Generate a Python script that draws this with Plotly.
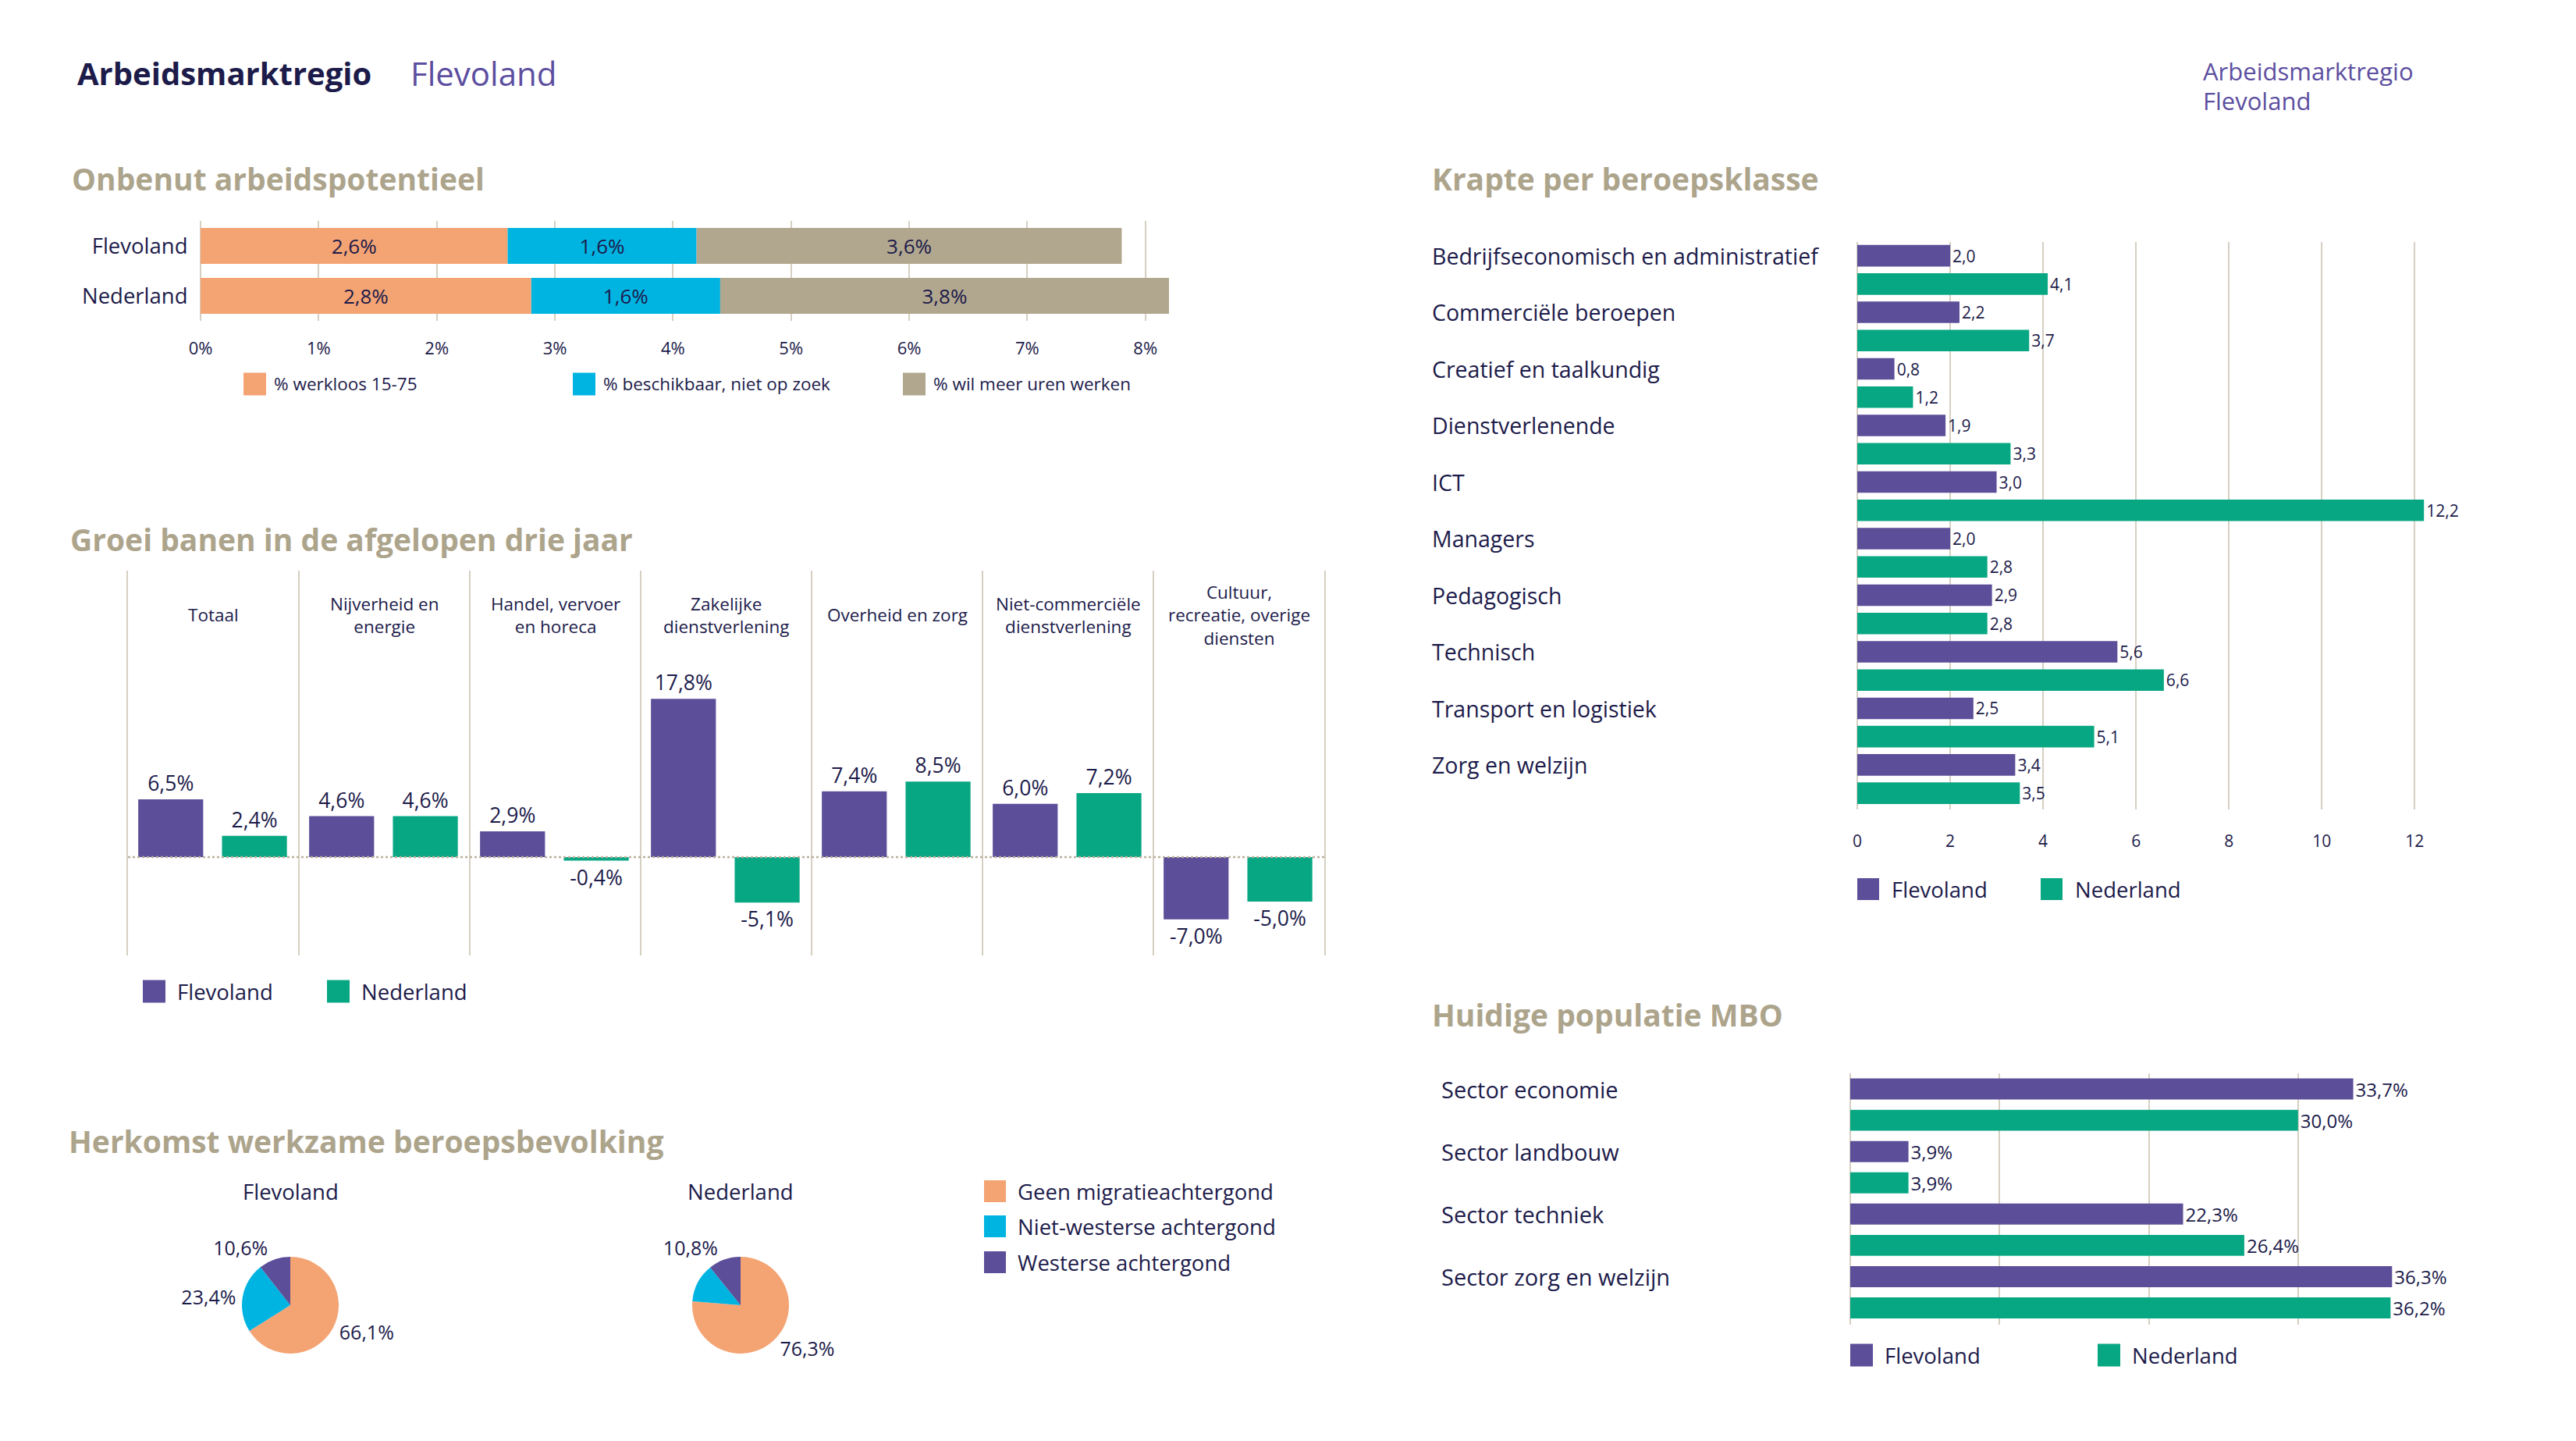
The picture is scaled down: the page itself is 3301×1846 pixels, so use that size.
import plotly.graph_objects as go

# ---------------- data ----------------
onbenut_regions = ["Flevoland", "Nederland"]
onbenut_series = ["% werkloos 15-75", "% beschikbaar, niet op zoek", "% wil meer uren werken"]
werkloos = [2.6, 2.8]
beschikbaar = [1.6, 1.6]
meer_uren = [3.6, 3.8]

groei_cats = ["Totaal", "Nijverheid en<br>energie", "Handel, vervoer<br>en horeca",
              "Zakelijke<br>dienstverlening", "Overheid en zorg",
              "Niet-commerciële<br>dienstverlening", "Cultuur,<br>recreatie, overige<br>diensten"]
groei_flevoland = [6.5, 4.6, 2.9, 17.8, 7.4, 6.0, -7.0]
groei_nederland = [2.4, 4.6, -0.4, -5.1, 8.5, 7.2, -5.0]

herkomst_labels = ["Geen migratieachtergond", "Niet-westerse achtergond", "Westerse achtergond"]
herkomst_flevoland = [66.1, 23.4, 10.6]
herkomst_nederland = [76.3, 12.9, 10.8]
herkomst_nederland_shown = [True, False, True]

krapte_cats = ["Bedrijfseconomisch en administratief", "Commerciële beroepen",
               "Creatief en taalkundig", "Dienstverlenende", "ICT", "Managers",
               "Pedagogisch", "Technisch", "Transport en logistiek", "Zorg en welzijn"]
krapte_flevoland = [2.0, 2.2, 0.8, 1.9, 3.0, 2.0, 2.9, 5.6, 2.5, 3.4]
krapte_nederland = [4.1, 3.7, 1.2, 3.3, 12.2, 2.8, 2.8, 6.6, 5.1, 3.5]

mbo_cats = ["Sector economie", "Sector landbouw", "Sector techniek", "Sector zorg en welzijn"]
mbo_flevoland = [33.7, 3.9, 22.3, 36.3]
mbo_nederland = [30.0, 3.9, 26.4, 36.2]

regions = ["Flevoland", "Nederland"]

# ---------------- styles ----------------
W, H = 3301, 1846
OFF = 8  # default page body margin
NAVY = "#1C1B4A"
PURPLE = "#5C4E99"
GREEN = "#08A783"
ORANGE = "#F4A373"
CYAN = "#00B4E2"
TAN = "#B1A78F"
TITLE_TAN = "#ADA48C"
GRID = "#D6CFC2"
HEAD_PURPLE = "#5C4E9F"
FONT = "Open Sans"


def fmt(v, suffix=""):
    return f"{v:.1f}".replace(".", ",") + suffix


def px(x):
    return (x - OFF) / W


def py(y):
    return 1 - (y - OFF) / H


def xd(a, b):
    return [px(a), px(b)]


def yd(top, bottom):
    return [py(bottom), py(top)]


fig = go.Figure()

# ---------- Chart 1: Onbenut arbeidspotentieel (stacked) ----------
base = [0.0] * len(onbenut_regions)
for name, vals, col in zip(onbenut_series, [werkloos, beschikbaar, meer_uren], [ORANGE, CYAN, TAN]):
    fig.add_trace(go.Bar(
        y=onbenut_regions, x=vals, base=list(base), orientation="h", name=name,
        marker=dict(color=col, line=dict(width=0)), width=0.72,
        text=[fmt(v, "%") for v in vals], textposition="inside", insidetextanchor="middle",
        textfont=dict(size=26, color=NAVY, family=FONT), constraintext="none",
        xaxis="x", yaxis="y", hoverinfo="skip"))
    base = [b + v for b, v in zip(base, vals)]

# ---------- Chart 2: Groei banen ----------
for name, vals, col, off in [(regions[0], groei_flevoland, PURPLE, -0.44),
                             (regions[1], groei_nederland, GREEN, 0.05)]:
    fig.add_trace(go.Bar(
        x=groei_cats, y=vals, name=name, width=0.38, offset=off,
        marker=dict(color=col, line=dict(width=0)),
        text=[fmt(v, "%") for v in vals], textposition="outside", cliponaxis=False,
        textfont=dict(size=26.5, color=NAVY, family=FONT), constraintext="none",
        xaxis="x2", yaxis="y2", hoverinfo="skip"))

# ---------- Chart 3: Herkomst (pies) ----------
pie_colors = [ORANGE, CYAN, PURPLE]
fig.add_trace(go.Pie(
    labels=herkomst_labels, values=herkomst_flevoland, sort=False, direction="clockwise",
    rotation=0, marker=dict(colors=pie_colors, line=dict(width=0)),
    text=[fmt(v, "%") for v in herkomst_flevoland], textinfo="text", textposition="outside",
    textfont=dict(size=25, color=NAVY, family=FONT), showlegend=False, hoverinfo="skip",
    domain=dict(x=xd(310, 434), y=yd(1610, 1734))))
fig.add_trace(go.Pie(
    labels=herkomst_labels, values=herkomst_nederland, sort=False, direction="clockwise",
    rotation=0, marker=dict(colors=pie_colors, line=dict(width=0)),
    text=[fmt(v, "%") if s else "" for v, s in zip(herkomst_nederland, herkomst_nederland_shown)],
    textinfo="text", textposition="outside",
    textfont=dict(size=25, color=NAVY, family=FONT), showlegend=False, hoverinfo="skip",
    domain=dict(x=xd(887, 1011), y=yd(1610, 1734))))

# ---------- Chart 4: Krapte ----------
for name, vals, col, off in [(regions[0], krapte_flevoland, PURPLE, -0.44),
                             (regions[1], krapte_nederland, GREEN, 0.06)]:
    fig.add_trace(go.Bar(
        y=krapte_cats, x=vals, orientation="h", name=name, width=0.38, offset=off,
        marker=dict(color=col, line=dict(width=0)),
        text=[fmt(v) for v in vals], textposition="outside", cliponaxis=False,
        textfont=dict(size=21, color=NAVY, family=FONT), constraintext="none",
        xaxis="x3", yaxis="y3", hoverinfo="skip"))

# ---------- Chart 5: MBO ----------
for name, vals, col, off in [(regions[0], mbo_flevoland, PURPLE, -0.418),
                             (regions[1], mbo_nederland, GREEN, 0.082)]:
    fig.add_trace(go.Bar(
        y=mbo_cats, x=vals, orientation="h", name=name, width=0.336, offset=off,
        marker=dict(color=col, line=dict(width=0)),
        text=[fmt(v, "%") for v in vals], textposition="outside", cliponaxis=False,
        textfont=dict(size=24, color=NAVY, family=FONT), constraintext="none",
        xaxis="x4", yaxis="y4", hoverinfo="skip"))

hidden_ticks = dict(ticks="outside", tickcolor="rgba(0,0,0,0)")

fig.update_layout(
    width=W, height=H, margin=dict(l=0, r=0, t=0, b=0, autoexpand=False),
    paper_bgcolor="white", plot_bgcolor="white", showlegend=False,
    barmode="overlay", font=dict(family=FONT, color=NAVY),
    xaxis=dict(domain=xd(257, 1498), range=[0, 8.2], dtick=1, ticksuffix="%",
               showgrid=True, gridcolor=GRID, gridwidth=1.5, zeroline=True,
               zerolinecolor=GRID, zerolinewidth=1.5, ticklen=16, automargin=False,
               tickfont=dict(size=22, color=NAVY), anchor="y", fixedrange=True,
               **hidden_ticks),
    yaxis=dict(domain=yd(283, 411), type="category", autorange="reversed", automargin=False,
               showgrid=False, ticklen=10, tickfont=dict(size=27.5, color=NAVY),
               anchor="x", fixedrange=True, **hidden_ticks),
    xaxis2=dict(domain=xd(164, 1697), type="category", range=[-0.5, 6.5], automargin=False,
                showgrid=True, tickson="boundaries", gridcolor=GRID, gridwidth=1.5,
                showticklabels=False, zeroline=False, anchor="y2", fixedrange=True),
    yaxis2=dict(domain=yd(731, 1224), range=[-11.05, 32.2], showgrid=False, automargin=False,
                showline=True, mirror=True, linecolor=GRID, linewidth=1.5,
                zeroline=False, showticklabels=False, anchor="x2", fixedrange=True),
    xaxis3=dict(domain=xd(2380, 3130), range=[0, 12.6], dtick=2, showgrid=True,
                gridcolor=GRID, gridwidth=1.5, zeroline=True, zerolinecolor=GRID,
                zerolinewidth=1.5, ticklen=22, tickfont=dict(size=21, color=NAVY),
                automargin=False, anchor="y3", fixedrange=True, **hidden_ticks),
    yaxis3=dict(domain=yd(309.5, 1037), type="category", autorange="reversed", automargin=False,
                showgrid=False, showticklabels=False, anchor="x3", fixedrange=True),
    xaxis4=dict(domain=xd(2371, 3137), range=[0, 40.05], dtick=10, showgrid=True,
                gridcolor=GRID, gridwidth=1.5, zeroline=True, zerolinecolor=GRID,
                zerolinewidth=1.5, showticklabels=False, automargin=False,
                anchor="y4", fixedrange=True),
    yaxis4=dict(domain=yd(1375, 1697), type="category", autorange="reversed", automargin=False,
                showgrid=False, showticklabels=False, anchor="x4", fixedrange=True),
)

shapes = []
annotations = []


def ann(x, y, text, size, color=NAVY, xanchor="left", bold=False, **kw):
    t = f"<b>{text}</b>" if bold else text
    d = dict(x=px(x), y=py(y), xref="paper", yref="paper", text=t, showarrow=False,
             xanchor=xanchor, yanchor="middle", font=dict(size=size, color=color, family=FONT))
    d.update(kw)
    annotations.append(d)


def legend_item(x, y, color, text, size=27, sq=28, gap=13):
    shapes.append(dict(type="rect", xref="paper", yref="paper", x0=px(x), x1=px(x + sq),
                       y0=py(y + sq / 2), y1=py(y - sq / 2), fillcolor=color,
                       line=dict(width=0), layer="above"))
    ann(x + sq + gap, y, text, size)


# zero line of groei chart (dotted)
shapes.append(dict(type="line", xref="x2 domain", yref="y2", x0=0, x1=1, y0=0, y1=0,
                   line=dict(color="#B9B09C", width=2.5, dash="dot"), layer="above"))

# header
ann(97, 93, "Arbeidsmarktregio", 40, color=NAVY, bold=True)
ann(524, 93, "Flevoland", 42, color=HEAD_PURPLE)
ann(2821, 91, "Arbeidsmarktregio", 31, color=HEAD_PURPLE)
ann(2821, 129, "Flevoland", 31, color=HEAD_PURPLE)

# section titles
ann(90, 229, "Onbenut arbeidspotentieel", 39, color=TITLE_TAN, bold=True)
ann(88, 690, "Groei banen in de afgelopen drie jaar", 39, color=TITLE_TAN, bold=True)
ann(86, 1461, "Herkomst werkzame beroepsbevolking", 39, color=TITLE_TAN, bold=True)
ann(1833, 229, "Krapte per beroepsklasse", 39, color=TITLE_TAN, bold=True)
ann(1833, 1299, "Huidige populatie MBO", 39, color=TITLE_TAN, bold=True)

# legends
legend_item(312, 492, ORANGE, onbenut_series[0], size=22.5, sq=29, gap=8)
legend_item(734, 492, CYAN, onbenut_series[1], size=22.5, sq=29, gap=8)
legend_item(1157, 492, TAN, onbenut_series[2], size=22.5, sq=29, gap=8)

legend_item(183, 1270, PURPLE, regions[0], size=27.5, sq=29)
legend_item(419, 1270, GREEN, regions[1], size=27.5, sq=29)

legend_item(1261, 1526, ORANGE, herkomst_labels[0], size=27.5, sq=28, gap=13)
legend_item(1261, 1571, CYAN, herkomst_labels[1], size=27.5, sq=28, gap=13)
legend_item(1261, 1617, PURPLE, herkomst_labels[2], size=27.5, sq=28, gap=13)

legend_item(2380, 1139, PURPLE, regions[0], size=27.5, sq=28, gap=14)
legend_item(2615, 1139, GREEN, regions[1], size=27.5, sq=28, gap=14)

legend_item(2371, 1736, PURPLE, regions[0], size=27.5, sq=29, gap=13)
legend_item(2688, 1736, GREEN, regions[1], size=27.5, sq=29, gap=13)

# pie titles
ann(372, 1526, regions[0], 27.5, xanchor="center")
ann(949, 1526, regions[1], 27.5, xanchor="center")

# groei category labels
for c in groei_cats:
    annotations.append(dict(x=c, y=0.885, xref="x2", yref="y2 domain", text=c, showarrow=False,
                            xanchor="center", yanchor="middle", align="center",
                            font=dict(size=22.5, color=NAVY, family=FONT)))

# krapte category labels (aligned to the upper bar)
for c in krapte_cats:
    annotations.append(dict(x=px(1833), y=c, xref="paper", yref="y3", text=c, showarrow=False,
                            xanchor="left", yanchor="middle", yshift=18,
                            font=dict(size=28.5, color=NAVY, family=FONT)))

for c in mbo_cats:
    annotations.append(dict(x=px(1845), y=c, xref="paper", yref="y4", text=c, showarrow=False,
                            xanchor="left", yanchor="middle", yshift=20,
                            font=dict(size=29, color=NAVY, family=FONT)))

fig.update_layout(shapes=shapes, annotations=annotations)
fig.write_html("out.html")
